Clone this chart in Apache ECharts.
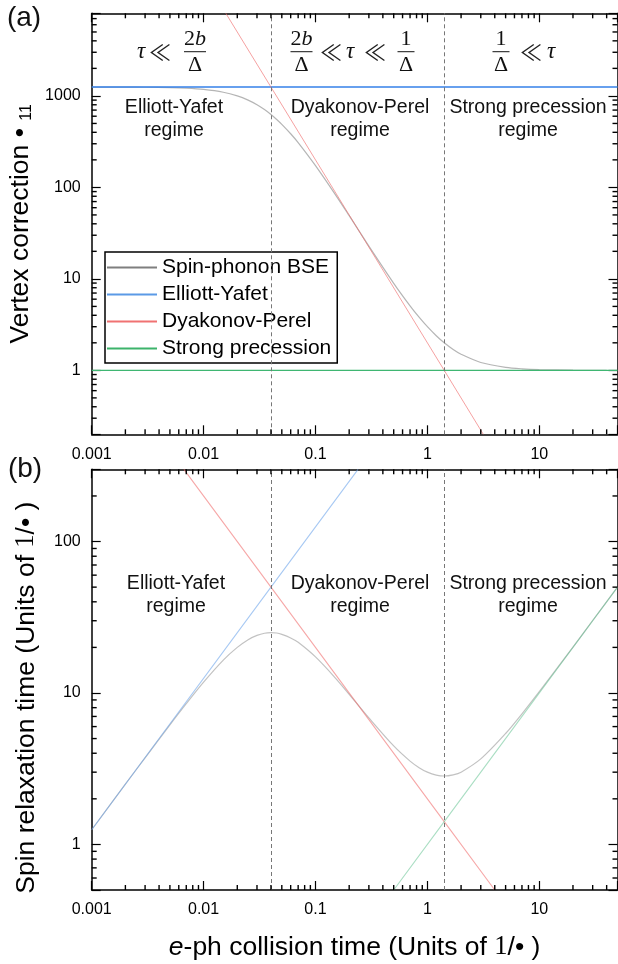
<!DOCTYPE html>
<html>
<head>
<meta charset="utf-8">
<style>
  html, body { margin: 0; padding: 0; background: #fff; }
  #chart { width: 618px; height: 964px; }
</style>
<script src="https://cdn.jsdelivr.net/npm/echarts@6/dist/echarts.min.js"></script>
</head>
<body>
<div id="chart"></div>
<script>
// ---- data ----
const xMajor = [0.001, 0.01, 0.1, 1, 10]
const yMajorA = [1, 10, 100, 1000]
const yMajorB = [1, 10, 100]
const regimeBounds = [0.04, 1.414]   // 2b/Δ and 1/Δ

// (a) vertex correction
const tauA = [0.001, 0.002, 0.003, 0.005, 0.007, 0.01, 0.015, 0.02, 0.025, 0.03, 0.035, 0.04, 0.045, 0.05, 0.06, 0.07, 0.1, 0.15, 0.2, 0.3, 0.5, 0.7, 0.85, 1, 1.2, 1.414, 1.7, 2, 3, 5, 7, 10, 20, 40]
const bseA = [1250, 1248, 1244, 1232, 1214, 1177, 1097, 1001, 900, 801, 709, 626, 553, 489, 386, 309, 173, 84, 49.1, 22.8, 8.94, 5.07, 3.76, 3.0, 2.39, 2.0, 1.69, 1.5, 1.22, 1.08, 1.04, 1.02, 1.005, 1.001]
const eyA = [[0.001, 1250], [50, 1250]]
const dpA = [[0.0158, 8000], [0.04, 1250], [1.414, 1], [3.16, 0.2]]
const spA = [[0.001, 1], [50, 1]]

// (b) spin relaxation time
const tauB = [0.001, 0.002, 0.003, 0.005, 0.007, 0.01, 0.015, 0.02, 0.025, 0.03, 0.035, 0.04, 0.045, 0.05, 0.06, 0.07, 0.1, 0.15, 0.2, 0.3, 0.5, 0.7, 0.85, 1, 1.2, 1.414, 1.7, 2, 3, 5, 7, 10, 20, 30, 50]
const bseB = [1.25, 2.5, 3.73, 6.16, 8.5, 11.8, 16.5, 20.0, 22.5, 24.0, 24.8, 25.0, 24.9, 24.4, 23.1, 21.6, 17.3, 12.6, 9.8, 6.85, 4.47, 3.55, 3.2, 3.0, 2.87, 2.83, 2.88, 3.0, 3.67, 5.4, 7.29, 10.2, 20.1, 30.1, 50]
const eyB = [[0.001, 1.25], [0.04, 50], [0.24, 300]]
const dpB = [[0.00667, 300], [0.04, 50], [1.414, 1.414], [4, 0.5]]
const spB = [[0.5, 0.5], [1.414, 1.414], [50, 50]]

const names = ['Spin-phonon BSE', 'Elliott-Yafet', 'Dyakonov-Perel', 'Strong precession']

// ---- styling ----
const SANS = '"Liberation Sans", Arial, Helvetica, sans-serif'
const SERIF = '"Liberation Serif", "Times New Roman", serif'
const X_RANGE = [0.001, 50]
const Y_A = [0.2, 8000], Y_B = [0.5, 300]
const GRID_L = 91.7, GRID_R = 0.5
const MAJOR_LEN = 9, MINOR_LEN = 5

function minors(lo, hi, range) {
  const out = []
  for (let d = lo; d <= hi; d++) {
    for (let m = 2; m <= 9; m++) {
      const v = +(m * Math.pow(10, d)).toPrecision(6)
      if (v > range[0] && v < range[1]) out.push(v)
    }
  }
  return out
}
const xMinor = minors(-3, 1, X_RANGE)
const yMinorA = minors(-1, 3, Y_A)
const yMinorB = minors(-1, 2, Y_B)

function ax(kind, grid, pos, range, labels, extra) {
  return Object.assign({
    type: 'log', logBase: 10, gridIndex: grid, position: pos,
    min: range[0], max: range[1],
    axisLine: { show: true, onZero: false, lineStyle: { color: '#000', width: 1.5 } },
    axisTick: { show: true, inside: true, length: MAJOR_LEN, lineStyle: { color: '#000', width: 1.2 } },
    axisLabel: labels ? {
      show: true, customValues: labels, formatter: v => String(v),
      margin: kind === 'x' ? 12 : 11, color: '#000', fontSize: 16, fontFamily: SANS
    } : { show: false },
    splitLine: { show: false },
    minorTick: { show: false },
    silent: true
  }, extra || {})
}

function line(name, data, color, width, grid, z, smooth) {
  return {
    name, type: 'line', data, xAxisIndex: grid * 2, yAxisIndex: grid * 2,
    symbol: 'none', showSymbol: false, smooth: smooth || false,
    lineStyle: { color, width }, itemStyle: { color },
    z, silent: true, animation: false, clip: true
  }
}
function pairs(xs, ys) { return xs.map((x, i) => [x, ys[i]]) }

function bounds(grid) {
  return {
    name: 'bounds' + grid, type: 'line', data: [], xAxisIndex: grid * 2, yAxisIndex: grid * 2,
    silent: true, animation: false,
    markLine: {
      silent: true, symbol: 'none', animation: false,
      label: { show: false },
      lineStyle: { color: '#777', width: 1, type: [4, 3] },
      data: regimeBounds.map(v => ({ xAxis: v }))
    }
  }
}

const TITLE_SIZE = 26.5
const titleStyle = { fontSize: TITLE_SIZE, fontFamily: SANS, color: '#000' }

const chart = echarts.init(document.getElementById('chart'), null, { renderer: 'canvas' })
chart.setOption({
  backgroundColor: '#fff',
  animation: false,
  grid: [
    { left: GRID_L, right: GRID_R, top: 13.3, height: 421, containLabel: false, outerBoundsMode: 'none' },
    { left: GRID_L, right: GRID_R, top: 469.3, height: 420.7, containLabel: false, outerBoundsMode: 'none' }
  ],
  xAxis: [
    ax('x', 0, 'bottom', X_RANGE, xMajor),
    ax('x', 0, 'top', X_RANGE, null),
    ax('x', 1, 'bottom', X_RANGE, xMajor, {
      name: '{i|e}-ph collision time (Units of {m|1}/• )',
      nameLocation: 'middle', nameGap: 44,
      nameTextStyle: Object.assign({}, titleStyle, {
        rich: {
          i: { fontSize: TITLE_SIZE, fontFamily: SANS, fontStyle: 'italic', color: '#000' },
          m: { fontSize: TITLE_SIZE, fontFamily: SERIF, color: '#000' }
        }
      })
    }),
    ax('x', 1, 'top', X_RANGE, null)
  ],
  yAxis: [
    ax('y', 0, 'left', Y_A, yMajorA, {
      name: 'Vertex correction • {s|11}',
      nameLocation: 'middle', nameGap: 57,
      nameTextStyle: Object.assign({}, titleStyle, {
        rich: { s: { fontSize: 16, fontFamily: SANS, color: '#000', verticalAlign: 'bottom' } }
      })
    }),
    ax('y', 0, 'right', Y_A, null),
    ax('y', 1, 'left', Y_B, yMajorB, {
      name: 'Spin relaxation time (Units of {m|1}/• )',
      nameLocation: 'middle', nameGap: 52,
      nameTextStyle: Object.assign({}, titleStyle, {
        padding: [0, 36, 0, 0],
        rich: { m: { fontSize: TITLE_SIZE, fontFamily: SERIF, color: '#000' } }
      })
    }),
    ax('y', 1, 'right', Y_B, null)
  ],
  legend: {
    left: 105, top: 252, orient: 'vertical',
    itemWidth: 50, itemHeight: 2, itemGap: 6,
    padding: [5, 6, 4, 2],
    borderColor: '#000', borderWidth: 1.5, backgroundColor: '#fff',
    textStyle: { fontSize: 21, fontFamily: SANS, color: '#000' },
    selectedMode: false,
    data: [
      { name: names[0], icon: 'rect', itemStyle: { color: '#7f7f7f' } },
      { name: names[1], icon: 'rect', itemStyle: { color: '#5b9ae6' } },
      { name: names[2], icon: 'rect', itemStyle: { color: '#f07272' } },
      { name: names[3], icon: 'rect', itemStyle: { color: '#3cb36b' } }
    ]
  },
  series: [
    bounds(0),
    line(names[0], pairs(tauA, bseA), 'rgba(120,120,120,0.55)', 1.2, 0, 2, 0.3),
    line(names[1], eyA, '#3580e8', 1.5, 0, 3),
    line(names[2], dpA, 'rgba(240,110,110,0.65)', 1, 0, 3),
    line(names[3], spA, '#3fb672', 1.4, 0, 3),
    bounds(1),
    line(names[0], pairs(tauB, bseB), 'rgba(120,120,120,0.45)', 1.2, 1, 2, 0.3),
    line(names[1], eyB, 'rgba(110,165,235,0.6)', 1.1, 1, 3),
    line(names[2], dpB, 'rgba(240,110,110,0.6)', 1.1, 1, 3),
    line(names[3], spB, 'rgba(100,195,145,0.55)', 1.1, 1, 3)
  ]
})

// ---- inward tick marks on all four sides, placed with the axis scales ----
function px(finder, v) {
  const r = chart.convertToPixel(finder, v)
  return Array.isArray(r) ? r[0] : r
}
function tickMarks(grid, yRange, yMajor, yMinor) {
  const xi = grid * 2, yi = grid * 2
  const left = px({ xAxisIndex: xi }, X_RANGE[0])
  const right = px({ xAxisIndex: xi }, X_RANGE[1])
  const bottom = px({ yAxisIndex: yi }, yRange[0])
  const top = px({ yAxisIndex: yi }, yRange[1])
  const out = []
  // thin rectangles rather than zero-width paths
  const vbar = (x, y0, y1) => ({ type: 'rect', z: 60, shape: { x: x - 0.7, y: Math.min(y0, y1), width: 1.4, height: Math.abs(y1 - y0) }, style: { fill: '#000' } })
  const hbar = (y, x0, x1) => ({ type: 'rect', z: 60, shape: { x: Math.min(x0, x1), y: y - 0.7, width: Math.abs(x1 - x0), height: 1.4 }, style: { fill: '#000' } })
  xMinor.forEach(v => {
    const x = px({ xAxisIndex: xi }, v)
    out.push(vbar(x, bottom, bottom - MINOR_LEN), vbar(x, top, top + MINOR_LEN))
  })
  yMinor.forEach(v => {
    const y = px({ yAxisIndex: yi }, v)
    out.push(hbar(y, left, left + MINOR_LEN), hbar(y, right, right - MINOR_LEN))
  })
  return out
}

// ---- text annotations ----
const TXT = '#111'
function label(x, y, text, size, family, extra) {
  return {
    type: 'text', x, y, z: 50,
    style: Object.assign({
      text, fill: TXT, fontSize: size, fontFamily: family,
      align: 'center', verticalAlign: 'middle'
    }, extra || {})
  }
}
const MATH_Y = 51.7
const mathRich = {
  r: { fontSize: 22, fontFamily: SERIF, fill: TXT },
  i: { fontSize: 22, fontFamily: SERIF, fontStyle: 'italic', fill: TXT }
}
function frac(cx, num, w) {
  return [
    label(cx, MATH_Y - 12, num, 22, SERIF, { rich: mathRich }),
    { type: 'rect', z: 50, shape: { x: cx - w / 2, y: MATH_Y - 0.5, width: w, height: 1 }, style: { fill: TXT } },
    label(cx, MATH_Y + 14, 'Δ', 22, SERIF)
  ]
}
const ll = x => label(x, MATH_Y, '≪', 22, '"Noto Sans CJK JP", "DejaVu Serif", serif', { fill: '#222' })
const tau = x => label(x, MATH_Y, 'τ', 23, SERIF, { fontStyle: 'italic' })

const regime = (x, y, t) => label(x, y, t, 19.5, SANS, { lineHeight: 23 })

chart.setOption({
  graphic: [
    ...tickMarks(0, Y_A, yMajorA, yMinorA),
    ...tickMarks(1, Y_B, yMajorB, yMinorB),
    label(24, 18, '(a)', 28, SANS),
    label(25, 469, '(b)', 28, SANS),
    tau(141), ll(160), ...frac(195, '{r|2}{i|b}', 22),
    ...frac(301.5, '{r|2}{i|b}', 22), ll(331), tau(350), ll(375), ...frac(406, '1', 17),
    ...frac(501, '1', 17), ll(531), tau(551),
    regime(174, 119.5, 'Elliott-Yafet\nregime'),
    regime(360, 119.5, 'Dyakonov-Perel\nregime'),
    regime(528, 119.5, 'Strong precession\nregime'),
    regime(176, 595, 'Elliott-Yafet\nregime'),
    regime(360, 595, 'Dyakonov-Perel\nregime'),
    regime(528, 595, 'Strong precession\nregime')
  ]
})
</script>
</body>
</html>
